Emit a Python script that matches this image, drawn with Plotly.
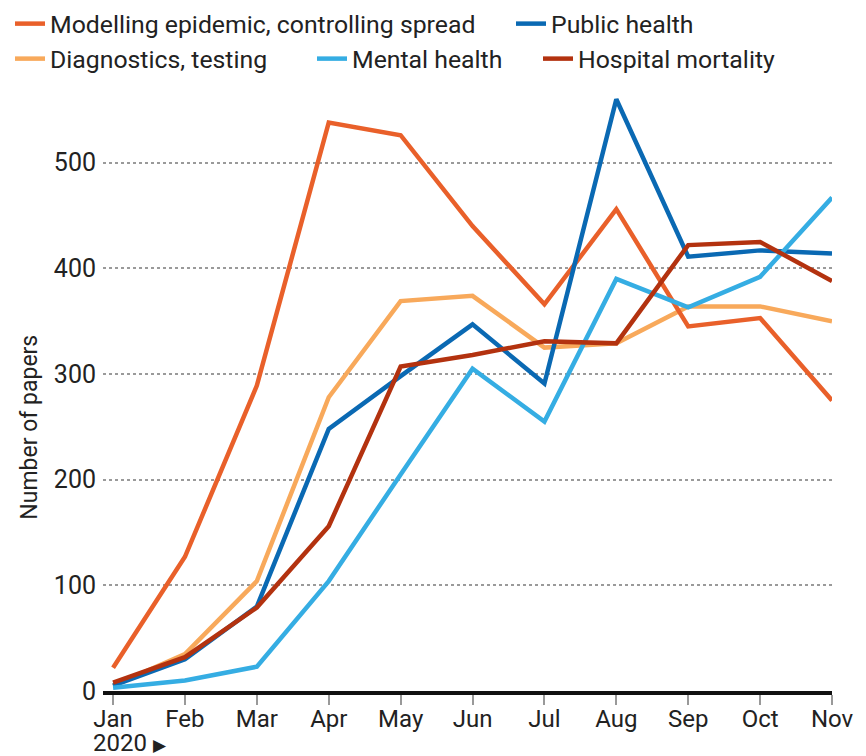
import plotly.graph_objects as go

months = ["Jan", "Feb", "Mar", "Apr", "May", "Jun", "Jul", "Aug", "Sep", "Oct", "Nov"]

modelling = [22, 127, 289, 538, 526, 440, 366, 456, 345, 353, 275]
public_health = [5, 30, 80, 248, 298, 347, 291, 560, 411, 417, 414]
diagnostics = [5, 35, 104, 278, 369, 374, 325, 329, 364, 364, 350]
mental_health = [3, 10, 23, 104, 205, 305, 255, 390, 363, 392, 467]
hospital = [8, 32, 79, 156, 307, 318, 331, 329, 422, 425, 388]

y_ticks = [0, 100, 200, 300, 400, 500]

series = [
    # name, values, colour, legend id
    ("Diagnostics, testing", diagnostics, "#f8a95b", "legend3"),
    ("Modelling epidemic, controlling spread", modelling, "#e9602a", "legend"),
    ("Public health", public_health, "#0a69b3", "legend2"),
    ("Mental health", mental_health, "#35ade3", "legend4"),
    ("Hospital mortality", hospital, "#b3320f", "legend5"),
]

fig = go.Figure()
for name, vals, col, lg in series:
    fig.add_trace(go.Scatter(
        x=list(range(len(months))), y=vals, mode="lines", name=name,
        line=dict(color=col, width=4.5), legend=lg,
    ))

FONT = "Roboto"
TXT = "#222222"

def leg(x, y):
    return dict(x=x, y=y, xref="container", yref="container", xanchor="left", yanchor="top",
                orientation="h", bgcolor="rgba(0,0,0,0)", borderwidth=0,
                font=dict(family=FONT, size=24.8, color=TXT), itemwidth=30, tracegroupgap=0)

fig.update_layout(
    width=866, height=756,
    margin=dict(l=103, r=28, t=88, b=65),
    plot_bgcolor="white", paper_bgcolor="white",
    font=dict(family=FONT, color=TXT),
    showlegend=True,
    legend=leg(10 / 866, 1 - 1 / 756),
    legend2=leg(511 / 866, 1 - 1 / 756),
    legend3=leg(10 / 866, 1 - 36 / 756),
    legend4=leg(312 / 866, 1 - 36 / 756),
    legend5=leg(538 / 866, 1 - 36 / 756),
    xaxis=dict(
        range=[-0.14, 10], tickmode="array", tickvals=list(range(len(months))), ticktext=months,
        showgrid=False, zeroline=False, showline=True, linecolor="#111111", linewidth=4,
        ticks="outside", ticklen=10, tickwidth=1.5, tickcolor="#999999",
        ticklabelstandoff=-7,
        tickfont=dict(family=FONT, size=24, color=TXT),
    ),
    yaxis=dict(
        range=[0, 565], tickmode="array", tickvals=y_ticks,
        showgrid=True, gridcolor="#9a9a9a", gridwidth=1.5, griddash="dot",
        zeroline=False, showline=False, ticks="", ticklabelstandoff=6,
        tickfont=dict(family=FONT, size=25, color=TXT),
    ),
)

# y-axis title (placed lower than plot centre, as in the reference)
fig.add_annotation(
    x=0, y=(691 - 425) / 603, xref="paper", yref="paper", xanchor="center", yanchor="middle",
    xshift=-73, showarrow=False, textangle=-90,
    text="Number of papers", font=dict(family=FONT, size=23, color=TXT),
)

fig.add_annotation(
    x=0, y=0, xref="x", yref="paper", xanchor="left", yanchor="middle",
    xshift=-22, yshift=-52, showarrow=False,
    text="2020 <span style='font-size:17px'>▶</span>",
    font=dict(family=FONT, size=24, color=TXT),
)

fig.write_html("out.html", post_script="document.body.style.margin='0';",
               config={"displayModeBar": False})
